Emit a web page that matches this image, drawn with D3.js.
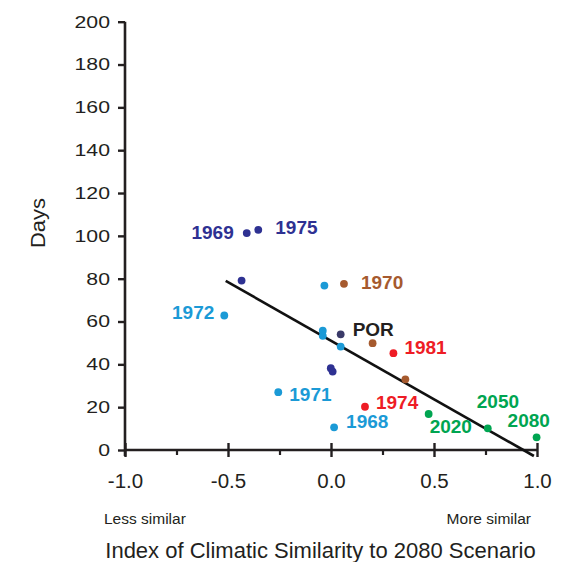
<!DOCTYPE html>
<html>
<head>
<meta charset="utf-8">
<script src="https://cdn.jsdelivr.net/npm/d3@7"></script>
<style>
  html, body { margin: 0; padding: 0; background: #fff; }
  svg { display: block; }
  text { font-family: "Liberation Sans", Arial, sans-serif; }
</style>
</head>
<body>
<svg id="chart" width="576" height="562"></svg>
<script>
// ---- data ----
const simIndex = [-0.409, -0.353, -0.434, -0.001, 0.008,
                  -0.518, -0.032, -0.040, -0.040, 0.047, -0.256, 0.015,
                  0.063, 0.202, 0.361,
                  0.303, 0.165,
                  0.474, 0.761, 0.998,
                  0.047];
const days = [101.3, 102.8, 79.1, 38.2, 36.6,
              62.8, 76.8, 55.7, 53.3, 48.3, 27.0, 10.6,
              77.6, 49.9, 33.0,
              45.2, 20.2,
              16.8, 10.1, 5.9,
              54.0];
const groups = ["navy","navy","navy","navy","navy",
                "lightblue","lightblue","lightblue","lightblue","lightblue","lightblue","lightblue",
                "brown","brown","brown",
                "red","red",
                "green","green","green",
                "por"];
const pointLabels = ["1969","1975","","","",
                     "1972","","","","","1971","1968",
                     "1970","","",
                     "1981","1974",
                     "2020","2050","2080",
                     "POR"];
const fitX = [-0.511, 0.985];
const fitY = [79.0, -2.8];
const yTicks = [0, 20, 40, 60, 80, 100, 120, 140, 160, 180, 200];
const xMajorTicks = [-1.0, -0.5, 0.0, 0.5, 1.0];
const xMinorTicks = [-0.75, -0.25, 0.25, 0.75];
const yTitle = "Days";
const xTitle = "Index of Climatic Similarity to 2080 Scenario";
const leftNote = "Less similar";
const rightNote = "More similar";

// ---- styles / layout ----
const colors = {
  navy: "#2e3192", lightblue: "#1b9ad6", brown: "#a65a2e",
  red: "#ee1c25", green: "#00a551", por: "#3a3a68"
};
const labelColors = Object.assign({}, colors, { por: "#231f20" });
// label placement relative to its point: [dx, dy, anchor]
const labelPlace = {
  "1969": [-13, -1, "end"],
  "1975": [17, -3, "start"],
  "1972": [-10, -3, "end"],
  "1970": [17, -2, "start"],
  "POR":  [12, -5, "start"],
  "1981": [11, -6, "start"],
  "1971": [11, 2, "start"],
  "1968": [12, -6, "start"],
  "1974": [11, -5, "start"],
  "2020": [1, 12, "start"],
  "2050": [-11, -27, "start"],
  "2080": [-29, -17, "start"]
};
const ink = "#231f20";

const svg = d3.select("#chart");
const x = d3.scaleLinear().domain([-1, 1]).range([125, 537]);
const y = d3.scaleLinear().domain([0, 200]).range([450, 21.7]);

// ---- y axis ----
const yAxisG = svg.append("g").attr("transform", `translate(${x(-1)},0)`)
  .call(d3.axisLeft(y).tickValues(yTicks).tickSize(7).tickSizeOuter(0).tickFormat(d3.format("d")));
yAxisG.select(".domain").attr("stroke", ink).attr("stroke-width", 2.6)
  .attr("d", `M0,${y(200)}V${y(0) + 6}`);
yAxisG.selectAll(".tick line").attr("stroke", ink).attr("stroke-width", 2.4);
yAxisG.selectAll(".tick text")
  .attr("x", 0).attr("dy", "0.32em")
  .attr("transform", "translate(-15,0) scale(1.25,1)")
  .attr("fill", ink).style("font-size", "17px").style("font-family", "Liberation Sans, Arial, sans-serif");

// ---- x axis ----
const xAxisG = svg.append("g").attr("transform", `translate(0,${y(0)})`)
  .call(d3.axisBottom(x).tickValues(xMajorTicks).tickSize(7).tickSizeOuter(0)
    .tickFormat(d => d.toFixed(1)));
xAxisG.select(".domain").attr("stroke", ink).attr("stroke-width", 2.6)
  .attr("d", `M${x(-1)},0H${x(1)}`);
xAxisG.selectAll(".tick line").attr("stroke", ink).attr("stroke-width", 2.4)
  .attr("y1", -7).attr("y2", 7);
xAxisG.selectAll(".tick text")
  .attr("y", 38).attr("dy", 0)
  .attr("fill", ink).style("font-size", "20.5px").style("font-family", "Liberation Sans, Arial, sans-serif");

const xMinorG = svg.append("g").attr("transform", `translate(0,${y(0)})`)
  .call(d3.axisBottom(x).tickValues(xMinorTicks).tickSize(5).tickFormat(""));
xMinorG.select(".domain").remove();
xMinorG.selectAll(".tick line").attr("stroke", ink).attr("stroke-width", 2.2);

// ---- fit line ----
svg.append("path")
  .datum(fitX.map((v, i) => [v, fitY[i]]))
  .attr("fill", "none").attr("stroke", "#111").attr("stroke-width", 2.6)
  .attr("d", d3.line().x(d => x(d[0])).y(d => y(d[1])));

// ---- points ----
const pts = simIndex.map((v, i) => ({ sx: v, d: days[i], g: groups[i], label: pointLabels[i] }));
svg.append("g").selectAll("circle").data(pts).join("circle")
  .attr("cx", d => x(d.sx)).attr("cy", d => y(d.d)).attr("r", 3.9)
  .attr("fill", d => colors[d.g]);

// ---- point labels ----
svg.append("g").selectAll("text").data(pts.filter(d => d.label)).join("text")
  .attr("x", d => x(d.sx) + labelPlace[d.label][0])
  .attr("y", d => y(d.d) + labelPlace[d.label][1])
  .attr("dy", "0.36em")
  .attr("text-anchor", d => labelPlace[d.label][2])
  .attr("fill", d => labelColors[d.g])
  .style("font-size", "19px").style("font-weight", "bold")
  .text(d => d.label);

// ---- titles ----
svg.append("text")
  .attr("transform", "translate(45,223) rotate(-90) scale(1.1,1)")
  .attr("text-anchor", "middle")
  .attr("fill", ink).style("font-size", "20px")
  .text(yTitle);

svg.append("text")
  .attr("x", 320.5).attr("y", 558).attr("text-anchor", "middle")
  .attr("fill", ink).style("font-size", "22px")
  .text(xTitle);

svg.append("text")
  .attr("x", 104).attr("y", 524).attr("text-anchor", "start")
  .attr("fill", ink).style("font-size", "15.5px")
  .text(leftNote);

svg.append("text")
  .attr("x", 531).attr("y", 524).attr("text-anchor", "end")
  .attr("fill", ink).style("font-size", "15.5px")
  .text(rightNote);
</script>
</body>
</html>
